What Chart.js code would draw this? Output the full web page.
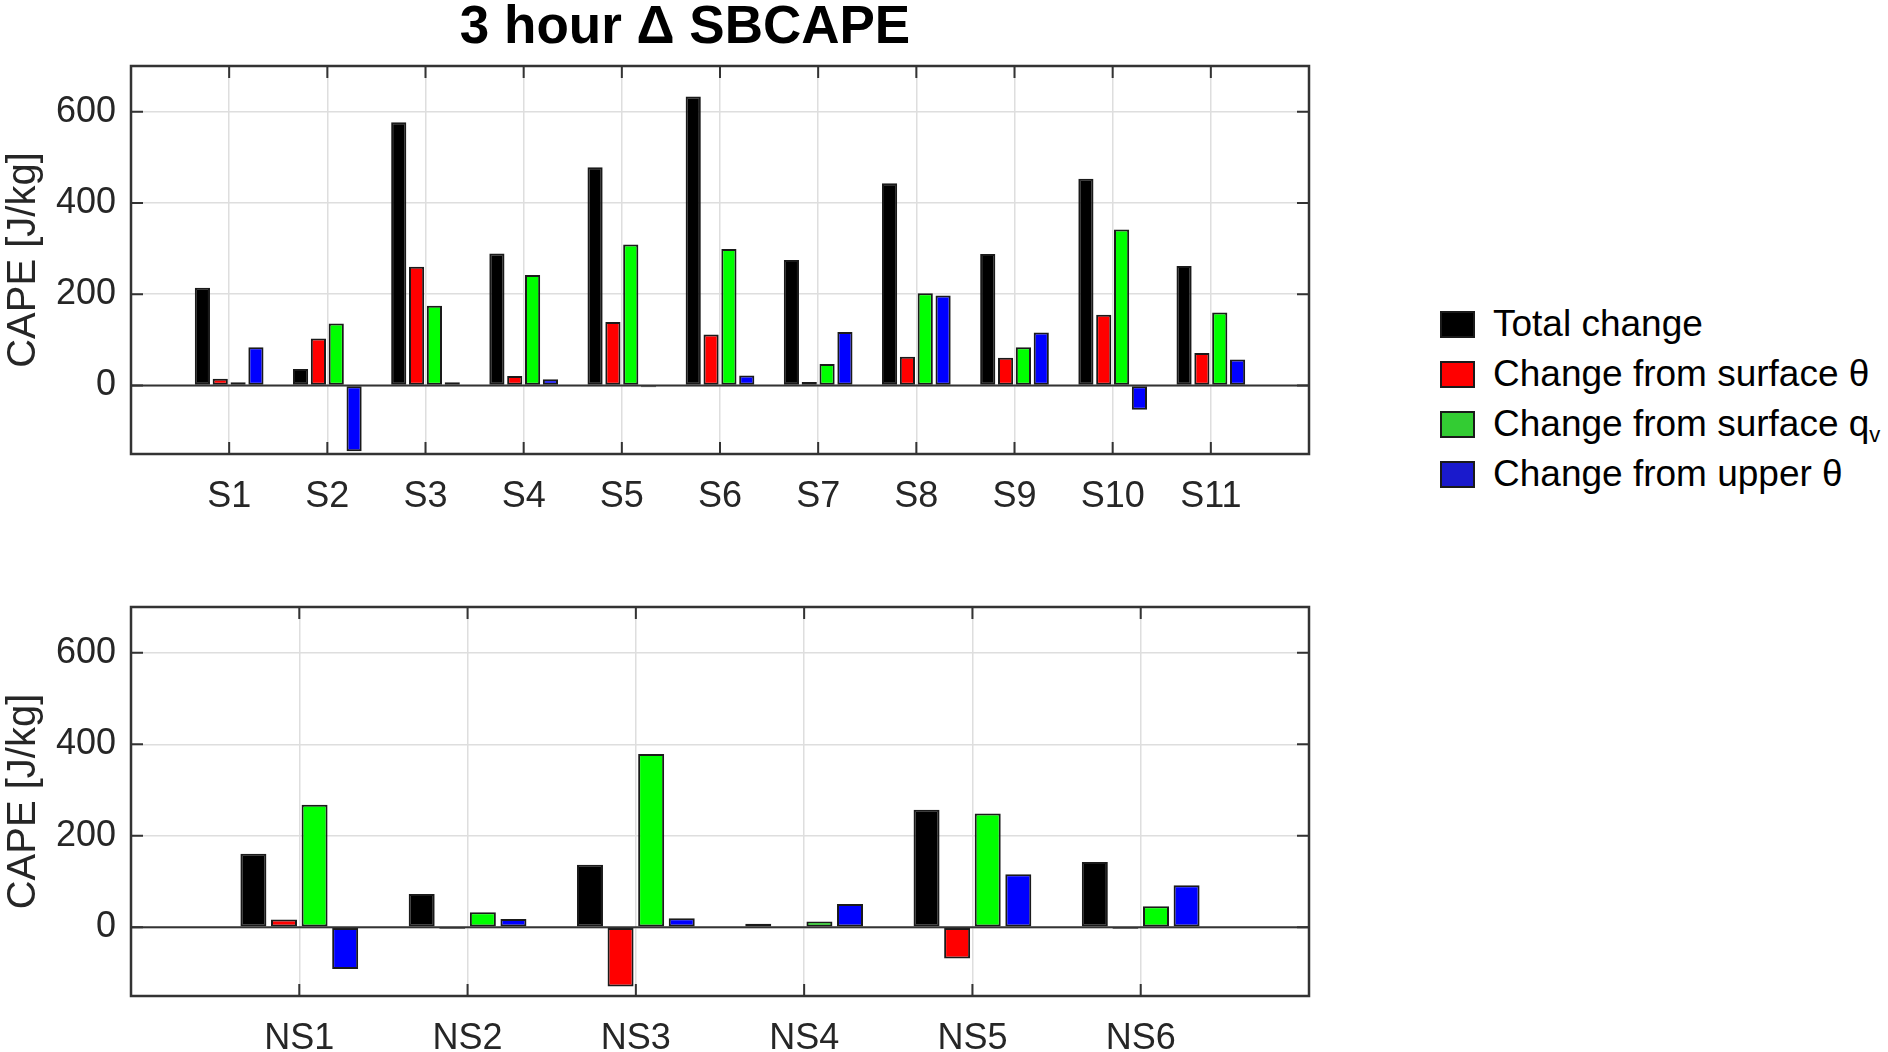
<!DOCTYPE html>
<html>
<head>
<meta charset="utf-8">
<title>3 hour Δ SBCAPE</title>
<script src="https://cdn.jsdelivr.net/npm/chart.js@4.4.1/dist/chart.umd.min.js"></script>
<style>
  body { margin: 0; background: #fff; width: 1888px; height: 1052px; position: relative; overflow: hidden;
         font-family: "Liberation Sans", Arial, Helvetica, sans-serif; }
  #title { position: absolute; left: 385px; width: 600px; top: -2px; text-align: center;
           font-weight: bold; font-size: 53px; line-height: 53px; color: #000; }
  .panel { position: absolute; left: 0; width: 1340px; }
  #topPanel { top: 0; height: 520px; }
  #bottomPanel { top: 540px; height: 512px; }
  #legend { position: absolute; left: 1440px; top: 299px; }
  .row { display: flex; align-items: center; height: 50px; white-space: nowrap; }
  .swatch { width: 35px; height: 27px; box-sizing: border-box; border: 2.5px solid #1a1a1a; }
  .label { margin-left: 18px; font-size: 37px; color: #000; }
  .label sub { font-size: 22px; vertical-align: -6px; line-height: 0; }
</style>
</head>
<body>
<div id="title">3 hour Δ SBCAPE</div>
<div class="panel" id="topPanel"><canvas id="topChart"></canvas></div>
<div class="panel" id="bottomPanel"><canvas id="bottomChart"></canvas></div>
<div id="legend"></div>

<script>
// sites with a storm (top) and without (bottom)
const topSites = ['S1', 'S2', 'S3', 'S4', 'S5', 'S6', 'S7', 'S8', 'S9', 'S10', 'S11'];
const topTotal = [214, 36, 577, 289, 478, 633, 275, 443, 288, 453, 262];
const topSurfTheta = [15, 103, 260, 21, 139, 112, 8, 63, 61, 155, 71];
const topSurfQv = [7, 136, 175, 242, 309, 299, 47, 202, 84, 342, 160];
const topUpperTheta = [84, -144, 7, 14, -4, 22, 117, 197, 116, -53, 57];

const bottomSites = ['NS1', 'NS2', 'NS3', 'NS4', 'NS5', 'NS6'];
const bottomTotal = [161, 73, 137, 8, 257, 143];
const bottomSurfTheta = [17, -3, -129, -1, -68, -3];
const bottomSurfQv = [268, 33, 379, 13, 249, 46];
const bottomUpperTheta = [-91, 18, 20, 51, 116, 92];

const yTicks = [0, 200, 400, 600];
const yMin = -150;
const yMax = 700;

const seriesNames = ['Total change', 'Change from surface θ', 'Change from surface q|v', 'Change from upper θ'];
const barColors = ['#000000', '#ff0000', '#00ff00', '#0000ff'];
const legendColors = ['#000000', '#ff0000', '#33cc33', '#1a1acc'];

const axisColor = '#262626';
const gridColor = '#dedede';
const tickLen = 12;
const fontFamily = 'Liberation Sans, Arial, sans-serif';

// legend, built from the series names (| marks a subscript)
const legendEl = document.getElementById('legend');
seriesNames.forEach((name, i) => {
  const row = document.createElement('div');
  row.className = 'row';
  const sw = document.createElement('div');
  sw.className = 'swatch';
  sw.style.background = legendColors[i];
  const lab = document.createElement('div');
  lab.className = 'label';
  const parts = name.split('|');
  lab.textContent = parts[0];
  if (parts[1]) {
    const sub = document.createElement('sub');
    sub.textContent = parts[1];
    lab.appendChild(sub);
  }
  row.appendChild(sw);
  row.appendChild(lab);
  legendEl.appendChild(row);
});

// box, zero line and inward tick marks like a matlab axes
const frameBox = {
  id: 'frameBox',
  afterDatasetsDraw(chart) {
    const { ctx, chartArea: a, scales } = chart;
    const x = scales.x, y = scales.y;
    ctx.save();
    ctx.strokeStyle = '#333';

    ctx.lineWidth = 2;
    const y0 = y.getPixelForValue(0);
    ctx.beginPath();
    ctx.moveTo(a.left, y0);
    ctx.lineTo(a.right, y0);
    ctx.stroke();

    ctx.beginPath();
    yTicks.forEach(v => {
      const py = y.getPixelForValue(v);
      ctx.moveTo(a.left, py); ctx.lineTo(a.left + tickLen, py);
      ctx.moveTo(a.right, py); ctx.lineTo(a.right - tickLen, py);
    });
    chart.data.labels.forEach((lbl, i) => {
      if (!lbl) return;
      const px = x.getPixelForValue(i);
      ctx.moveTo(px, a.top); ctx.lineTo(px, a.top + tickLen);
      ctx.moveTo(px, a.bottom); ctx.lineTo(px, a.bottom - tickLen);
    });
    ctx.stroke();

    ctx.lineWidth = 2.5;
    ctx.strokeRect(a.left, a.top, a.right - a.left, a.bottom - a.top);
    ctx.restore();
  }
};

// one empty slot on each side so the groups sit a full step from the box
const pad = arr => [null, ...arr, null];

function makePanel(canvasId, sites, series, padTop, xHeight) {
  return new Chart(document.getElementById(canvasId), {
    type: 'bar',
    data: {
      labels: ['', ...sites, ''],
      datasets: series.map((vals, i) => ({
        label: seriesNames[i],
        data: pad(vals),
        backgroundColor: barColors[i],
        borderColor: '#1a1a1a',
        borderWidth: 2,
        borderSkipped: false,
        categoryPercentage: 0.727,
        barPercentage: 0.85
      }))
    },
    options: {
      responsive: true,
      maintainAspectRatio: false,
      animation: false,
      layout: { padding: { top: padTop, right: 31, left: 0, bottom: 0 } },
      plugins: { legend: { display: false }, tooltip: { enabled: false } },
      scales: {
        x: {
          offset: false,
          grid: { color: gridColor, lineWidth: 1.5, drawTicks: false, offset: false },
          border: { display: false },
          ticks: {
            color: axisColor, padding: 21, maxRotation: 0, autoSkip: false,
            font: { family: fontFamily, size: 36 }
          },
          afterFit: s => { s.height = xHeight; }
        },
        y: {
          min: yMin,
          max: yMax,
          afterBuildTicks: s => { s.ticks = yTicks.map(v => ({ value: v })); },
          grid: { color: gridColor, lineWidth: 1.5, drawTicks: false },
          border: { display: false },
          ticks: {
            color: axisColor, padding: 15,
            font: { family: fontFamily, size: 36 }
          },
          title: {
            display: true, text: 'CAPE [J/kg]', color: axisColor,
            padding: { top: 0, bottom: 0 },
            font: { family: fontFamily, size: 40 }
          },
          afterFit: s => { s.width = 131; }
        }
      }
    },
    plugins: [frameBox]
  });
}

makePanel('topChart', topSites, [topTotal, topSurfTheta, topSurfQv, topUpperTheta], 66, 66);
makePanel('bottomChart', bottomSites, [bottomTotal, bottomSurfTheta, bottomSurfQv, bottomUpperTheta], 67, 56);
</script>
</body>
</html>
